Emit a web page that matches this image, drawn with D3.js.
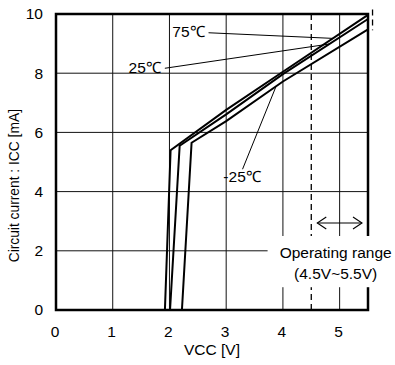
<!DOCTYPE html>
<html>
<head>
<meta charset="utf-8">
<script src="https://cdn.jsdelivr.net/npm/d3@7"></script>
<style>
  html, body { margin: 0; padding: 0; background: #fff; }
  svg { display: block; font-family: "Liberation Sans", Arial, sans-serif; }
</style>
</head>
<body>
<svg id="chart" width="395" height="365"></svg>
<script>
// Supply current vs supply voltage at three ambient temperatures
const xTicks = [0, 1, 2, 3, 4, 5];
const yTicks = [0, 2, 4, 6, 8, 10];

const vcc75 = [1.92, 2.02, 3.0, 4.0, 5.5];
const icc75 = [0, 5.40, 6.76, 8.05, 9.97];

const vcc25 = [2.01, 2.18, 3.0, 4.0, 5.5];
const icc25 = [0, 5.55, 6.61, 7.97, 9.83];

const vccM25 = [2.22, 2.39, 3.0, 4.0, 5.5];
const iccM25 = [0, 5.65, 6.38, 7.72, 9.48];

const seriesNames = ["75℃", "25℃", "-25℃"];

// Leader anchor points on each curve (VCC) and label positions (VCC, ICC)
const leaderOnCurve = [4.88, 4.82, 3.88];
const labelPos = [[2.05, 9.4], [1.28, 8.2], [2.95, 4.5]];

const opRange = [4.5, 5.5];
const opLabel = ["Operating range", "(4.5V~5.5V)"];

const FS = 15.5;

const svg = d3.select("#chart");
const margin = { top: 14, right: 27, bottom: 55, left: 56 };
const W = 395, H = 365;
const x = d3.scaleLinear().domain([0, 5.5]).range([margin.left, W - margin.right]);
const y = d3.scaleLinear().domain([0, 10]).range([H - margin.bottom, margin.top]);

// Grid
const grid = svg.append("g").attr("stroke", "#111").attr("stroke-width", 1);
xTicks.filter(d => d > 0).forEach(d => {
  grid.append("line").attr("x1", x(d)).attr("x2", x(d)).attr("y1", y(0)).attr("y2", y(10));
});
yTicks.filter(d => d > 0 && d < 10).forEach(d => {
  grid.append("line").attr("x1", x(0)).attr("x2", x(5.5)).attr("y1", y(d)).attr("y2", y(d));
});

// Operating range lower limit
svg.append("line")
  .attr("x1", x(opRange[0])).attr("x2", x(opRange[0]))
  .attr("y1", y(10)).attr("y2", y(0))
  .attr("stroke", "#000").attr("stroke-width", 1.3).attr("stroke-dasharray", "6,4");
// Upper limit marker above the curves
svg.append("line")
  .attr("x1", x(5.58)).attr("x2", x(5.58))
  .attr("y1", y(10.15)).attr("y2", y(9.45))
  .attr("stroke", "#000").attr("stroke-width", 1.3).attr("stroke-dasharray", "6,4");

// Curves
const line = d3.line().x(d => x(d[0])).y(d => y(d[1]));
const series = [
  d3.zip(vcc75, icc75),
  d3.zip(vcc25, icc25),
  d3.zip(vccM25, iccM25)
];
svg.append("g").selectAll("path").data(series).join("path")
  .attr("d", line)
  .attr("fill", "none").attr("stroke", "#000").attr("stroke-width", 2)
  .attr("stroke-linejoin", "miter");

// Temperature labels with leader lines
const curveAt = (s, v) => d3.scaleLinear().domain(s.map(d => d[0])).range(s.map(d => d[1]))(v);
const lab = svg.append("g").attr("font-size", FS);
seriesNames.forEach((name, i) => {
  const t = lab.append("text")
    .attr("x", x(labelPos[i][0])).attr("y", y(labelPos[i][1]))
    .attr("dy", "0.35em")
    .text(name);
  const bb = t.node().getBBox();
  const tx = x(leaderOnCurve[i]), ty = y(curveAt(series[i], leaderOnCurve[i]));
  let sx, sy;
  if (i < 2) { sx = bb.x + bb.width + 3; sy = y(labelPos[i][1]) + 1; }
  else { sx = bb.x + bb.width * 0.5; sy = bb.y + 1; }
  lab.append("line").attr("x1", sx).attr("y1", sy).attr("x2", tx).attr("y2", ty)
    .attr("stroke", "#000").attr("stroke-width", 1);
});

// Frame
svg.append("rect")
  .attr("x", x(0)).attr("y", y(10))
  .attr("width", x(5.5) - x(0)).attr("height", y(0) - y(10))
  .attr("fill", "none").attr("stroke", "#000").attr("stroke-width", 2.5);

// Operating range annotation (drawn over the grid on a white patch)
svg.append("rect")
  .attr("x", x(3.73)).attr("y", y(2.5))
  .attr("width", W - x(3.73)).attr("height", y(0.77) - y(2.5))
  .attr("fill", "#fff");
const opText = svg.append("g").attr("font-size", FS).attr("text-anchor", "middle");
opText.append("text").attr("x", x(4.93)).attr("y", y(1.93)).attr("dy", "0.35em").text(opLabel[0]);
opText.append("text").attr("x", x(4.93)).attr("y", y(1.22)).attr("dy", "0.35em").text(opLabel[1]);

// Double-headed arrow spanning the operating range
const ay = y(2.94);
const ax0 = x(opRange[0]) + 6, ax1 = x(opRange[1]) - 6;
const arrow = svg.append("g").attr("stroke", "#000").attr("stroke-width", 1.1).attr("fill", "none");
arrow.append("line").attr("x1", ax0).attr("x2", ax1).attr("y1", ay).attr("y2", ay);
arrow.append("path").attr("d", `M${ax0 + 9},${ay - 6} L${ax0},${ay} L${ax0 + 9},${ay + 6}`);
arrow.append("path").attr("d", `M${ax1 - 9},${ay - 6} L${ax1},${ay} L${ax1 - 9},${ay + 6}`);

// Axis tick labels
const axX = svg.append("g").attr("transform", `translate(0,${y(0)})`)
  .call(d3.axisBottom(x).tickValues(xTicks).tickFormat(d3.format("d")).tickSize(0).tickPadding(16));
const axY = svg.append("g").attr("transform", `translate(${x(0)},0)`)
  .call(d3.axisLeft(y).tickValues(yTicks).tickFormat(d3.format("d")).tickSize(0).tickPadding(13));
[axX, axY].forEach(a => {
  a.select(".domain").remove();
  a.selectAll("text").attr("font-size", FS).attr("font-family", "Liberation Sans, Arial, sans-serif").attr("fill", "#000");
});
axX.selectAll("text").attr("dx", "-0.1em");

// Axis titles
svg.append("text")
  .attr("x", (x(0) + x(5.5)) / 2).attr("y", 355)
  .attr("text-anchor", "middle").attr("font-size", FS)
  .text("VCC [V]");
svg.append("text")
  .attr("transform", `translate(19,${y(4.2)}) rotate(-90)`)
  .attr("text-anchor", "middle").attr("font-size", 13.8)
  .text("Circuit current : ICC [mA]");
</script>
</body>
</html>
